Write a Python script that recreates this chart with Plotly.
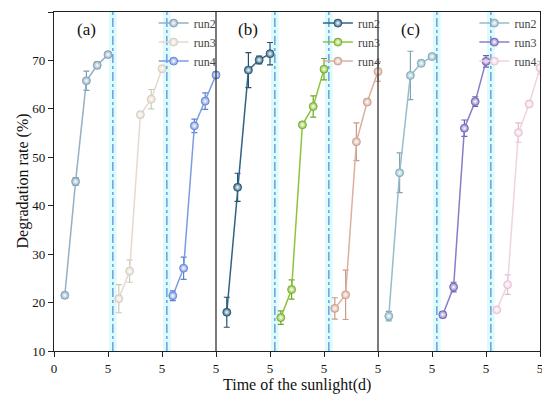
import plotly.graph_objects as go

# ---------------- data ----------------
days = [1, 2, 3, 4, 5]
runs = ["run2", "run3", "run4"]
panel_labels = ["(a)", "(b)", "(c)"]

a_run2 = [21.5, 45.0, 65.8, 69.0, 71.2]
a_run2_err = [0.6, 0.8, 2.0, 0.7, 0.6]
a_run3 = [20.8, 26.5, 58.8, 62.0, 68.3]
a_run3_err = [2.9, 2.3, 0.6, 2.0, 0.6]
a_run4 = [21.4, 27.1, 56.5, 61.6, 67.0]
a_run4_err = [1.0, 2.3, 1.4, 1.7, 0.6]

b_run2 = [18.0, 43.8, 68.0, 70.1, 71.4]
b_run2_err = [3.1, 2.9, 3.6, 0.8, 2.3]
b_run3 = [16.9, 22.7, 56.7, 60.5, 68.2]
b_run3_err = [1.4, 2.0, 0.5, 2.2, 2.2]
b_run4 = [18.8, 21.6, 53.2, 61.4, 67.7]
b_run4_err = [2.2, 5.1, 3.9, 0.6, 2.0]

c_run2 = [17.2, 46.8, 66.9, 69.4, 70.8]
c_run2_err = [1.0, 4.1, 5.0, 0.6, 0.5]
c_run3 = [17.5, 23.2, 56.0, 61.5, 69.8]
c_run3_err = [0.6, 1.0, 1.7, 1.0, 1.2]
c_run4 = [18.5, 23.7, 55.1, 61.0, 68.5]
c_run4_err = [0.5, 2.0, 2.0, 0.6, 1.3]

x_tick_vals = [0, 5, 10, 15, 20, 25, 30, 35, 40, 45]
x_tick_labels = ["0", "5", "5", "5", "5", "5", "5", "5", "5", "5"]
y_tick_vals = [10, 20, 30, 40, 50, 60, 70, 80]

x_title = "Time of the sunlight(d)"
y_title = "Degradation rate (%)"

panel_values = [
    [(a_run2, a_run2_err), (a_run3, a_run3_err), (a_run4, a_run4_err)],
    [(b_run2, b_run2_err), (b_run3, b_run3_err), (b_run4, b_run4_err)],
    [(c_run2, c_run2_err), (c_run3, c_run3_err), (c_run4, c_run4_err)],
]

# ---------------- style ----------------
SEG = 5  # width of one segment in axis units
colors = [
    ["#92b0c6", "#e6d9cf", "#7c9ae4"],
    ["#2f6584", "#8cc53c", "#dcb09e"],
    ["#97bccb", "#8b7cc6", "#f0d2e2"],
]
err_colors = [
    ["#7f9db3", "#c9cbb8", "#5f7fcf"],
    ["#24506a", "#6fa52a", "#c99a88"],
    ["#7fa6b5", "#6f60ad", "#e2bcd0"],
]
legend_names = ["legend", "legend2", "legend3"]
font_family = "Liberation Serif, Times New Roman, serif"

fig = go.Figure()

for p in range(3):
    for r in range(3):
        vals, errs = panel_values[p][r]
        seg_start = (p * 3 + r) * SEG
        xs = [seg_start + d for d in days]
        fig.add_trace(go.Scatter(
            x=xs, y=vals,
            mode="lines+markers",
            name=runs[r],
            legend=legend_names[p],
            line=dict(color=colors[p][r], width=1.5),
            marker=dict(size=8, color=colors[p][r],
                        gradient=dict(type="radial", color="white"),
                        line=dict(color=err_colors[p][r], width=0.8)),
            error_y=dict(type="data", array=errs, visible=True,
                         color=err_colors[p][r], thickness=1.2, width=3),
        ))

shapes = []
# light cyan bands + dash-dot separators between runs
for p in range(3):
    for r in (1, 2):
        b = (p * 3 + r) * SEG
        shapes.append(dict(type="rect", xref="x", yref="paper",
                           x0=b + 0.1, x1=b + 0.8, y0=0, y1=1,
                           fillcolor="rgba(190,248,250,0.55)", line=dict(width=0),
                           layer="below"))
        shapes.append(dict(type="line", xref="x", yref="paper",
                           x0=b + 0.45, x1=b + 0.45, y0=0, y1=1,
                           line=dict(color="#5d90dc", width=1.3, dash="dashdot")))
# panel borders
for p in (1, 2):
    b = p * 3 * SEG
    shapes.append(dict(type="line", xref="x", yref="paper",
                       x0=b, x1=b, y0=0, y1=1,
                       line=dict(color="#222", width=1.2)))

annotations = []
for p in range(3):
    annotations.append(dict(x=p * 3 * SEG + 3.0, y=76.3, xref="x", yref="y",
                            text=panel_labels[p], showarrow=False,
                            font=dict(family=font_family, size=17, color="#111")))
annotations.append(dict(x=0.5, y=0, xref="paper", yref="paper", text=x_title,
                        showarrow=False, yanchor="middle", yshift=-34,
                        font=dict(family=font_family, size=16, color="#111")))
annotations.append(dict(x=0, y=0.5, xref="paper", yref="paper", text=y_title,
                        showarrow=False, textangle=-90, xanchor="center",
                        xshift=-32,
                        font=dict(family=font_family, size=16, color="#111")))

legend_common = dict(bgcolor="rgba(0,0,0,0)", borderwidth=0,
                     font=dict(family=font_family, size=12, color="#444"),
                     itemwidth=30, yanchor="top", xanchor="left",
                     tracegroupgap=0)

# the page adds an 8px body margin, so the figure is 8px smaller than the window
fig.update_layout(
    width=542, height=387,
    margin=dict(l=46, r=10, t=4, b=44, autoexpand=False),
    paper_bgcolor="white", plot_bgcolor="white",
    font=dict(family=font_family, size=12, color="#111"),
    shapes=shapes, annotations=annotations,
    legend=dict(x=0.205, y=1.01, **legend_common),
    legend2=dict(x=0.543, y=1.01, **legend_common),
    legend3=dict(x=0.865, y=1.01, **legend_common),
    xaxis=dict(range=[0, 45], tickvals=x_tick_vals, ticktext=x_tick_labels,
               ticks="outside", ticklen=5, tickwidth=1, tickcolor="#222",
               showline=True, linecolor="#222", linewidth=1.2, mirror=True,
               showgrid=False, zeroline=False, automargin=False,
               tickfont=dict(family=font_family, size=13, color="#111")),
    yaxis=dict(range=[10, 80], tickvals=y_tick_vals,
               ticks="outside", ticklen=5, tickwidth=1, tickcolor="#222",
               showline=True, linecolor="#222", linewidth=1.2, mirror=True,
               showgrid=False, zeroline=False, automargin=False,
               tickfont=dict(family=font_family, size=13, color="#111")),
)

fig.write_html("out.html")
